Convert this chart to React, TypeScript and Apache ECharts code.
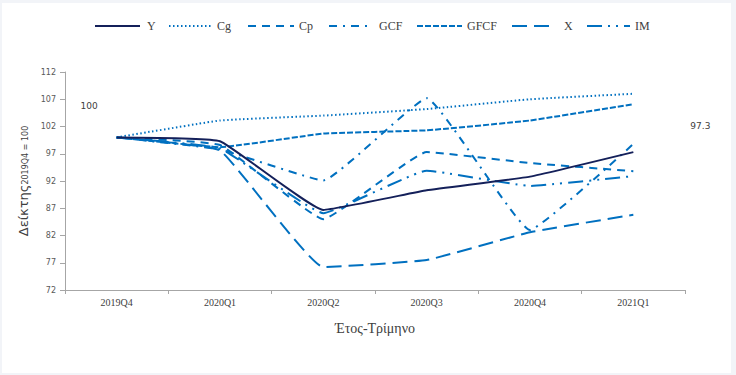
import React, { useEffect, useRef } from "react";
import * as echarts from "echarts";

const categories = ["2019Q4", "2020Q1", "2020Q2", "2020Q3", "2020Q4", "2021Q1"];
const seriesNames = ["Y", "Cg", "Cp", "GCF", "GFCF", "X", "IM"];
const yValues = [100, 99.3, 86.7, 90.3, 92.8, 97.3];
const cgValues = [100, 103.1, 104.0, 105.2, 107.0, 108.0];
const cpValues = [100, 98.6, 85.0, 97.3, 95.3, 93.8];
const gcfValues = [100, 97.8, 92.1, 107.2, 83.0, 98.8];
const gfcfValues = [100, 98.2, 100.7, 101.3, 103.1, 106.1];
const xValues = [100, 97.6, 76.2, 77.5, 82.6, 85.8];
const imValues = [100, 98.0, 86.1, 93.9, 91.1, 92.9];
const yTickMin = 72;
const yTickMax = 112;
const yTickStep = 5;

const BLUE = "#0070c0";
const NAVY = "#14205a";

export default function App() {
  const ref = useRef<HTMLDivElement>(null);
  useEffect(() => {
    if (!ref.current) return;
    const chart = echarts.init(ref.current, null, { renderer: "svg" });
    const mk = (name: string, data: any[], color: string, dash: any, extra: any = {}) => ({
      name,
      type: "line",
      data,
      symbol: "circle",
      symbolSize: 0.01,
      showSymbol: true,
      smooth: 0.1,
      lineStyle: { color, width: 2, type: dash, cap: "butt" },
      itemStyle: { color },
      ...extra,
    });
    const legendLefts = [92, 166, 245, 326, 414, 509, 584];
    const legendWidths = [45, 42, 46, 39, 45, 38, 43];
    const legendPads = [2, 1, 0, 6, 0, 9, 0];
    const legends = seriesNames.map((n, i) => ({
      data: [n],
      left: legendLefts[i],
      top: 17,
      padding: 0,
      itemWidth: legendWidths[i],
      itemHeight: 12,
      itemGap: 5,
      itemStyle: { opacity: 0 },
      textStyle: {
        fontFamily: "Liberation Serif",
        fontSize: 12,
        color: "#404040",
        padding: [0, 0, 0, legendPads[i]],
      },
    }));
    const lbl = { fontFamily: "DejaVu Sans", fontSize: 9, color: "#404040" };
    chart.setOption({
      animation: false,
      backgroundColor: "#ffffff",
      legend: legends,
      grid: { left: 63, right: 46, top: 69, bottom: 83 },
      xAxis: {
        type: "category",
        data: categories,
        boundaryGap: true,
        axisLine: { lineStyle: { color: "#a6a6a6", width: 1 } },
        axisTick: { show: true, length: 4, lineStyle: { color: "#a6a6a6" } },
        axisLabel: { fontFamily: "Liberation Serif", fontSize: 10, color: "#404040", margin: 7 },
        name: "Έτος-Τρίμηνο",
        nameLocation: "middle",
        nameGap: 31,
        nameTextStyle: { fontFamily: "Liberation Serif", fontSize: 14, color: "#404040" },
      },
      yAxis: {
        type: "value",
        min: yTickMin,
        max: yTickMax,
        interval: yTickStep,
        splitLine: { show: false },
        axisLine: { show: true, lineStyle: { color: "#a6a6a6", width: 1 } },
        axisTick: { show: true, length: 5, lineStyle: { color: "#a6a6a6" } },
        axisLabel: { fontFamily: "DejaVu Sans", fontSize: 8, color: "#595959", margin: 9 },
        name: "{a|Δείκτης}{b|2019Q4 = 100}",
        nameLocation: "middle",
        nameGap: 34,
        nameRotate: 90,
        nameTextStyle: {
          rich: {
            a: { fontFamily: "DejaVu Sans", fontSize: 13, color: "#404040", verticalAlign: "bottom" },
            b: { fontFamily: "DejaVu Sans", fontSize: 8, color: "#404040", verticalAlign: "bottom" },
          },
        },
      },
      series: [
        mk(
          "Y",
          yValues.map((v, i) =>
            i === 0
              ? { value: v, label: { show: true, position: "left", offset: [-14, -31], formatter: "100", ...lbl } }
              : i === yValues.length - 1
              ? { value: v, label: { show: true, position: "right", offset: [52, -26], formatter: "97.3", ...lbl } }
              : v
          ),
          NAVY,
          "solid",
          { z: 10 }
        ),
        mk("Cg", cgValues, BLUE, [1.5, 2.5]),
        mk("Cp", cpValues, BLUE, [8, 6]),
        mk("GCF", gcfValues, BLUE, [8, 6, 2, 6]),
        mk("GFCF", gfcfValues, BLUE, [6, 2]),
        mk("X", xValues, BLUE, [15, 7]),
        mk("IM", imValues, BLUE, [15, 6, 2, 6, 2, 6]),
      ],
    });
    return () => chart.dispose();
  }, []);
  return (
    <div style={{ position: "fixed", left: 0, top: 0, width: 736, height: 375, background: "#f2f4f8" }}>
      <div ref={ref} style={{ position: "absolute", left: 2, top: 3, width: 729, height: 370 }} />
    </div>
  );
}
